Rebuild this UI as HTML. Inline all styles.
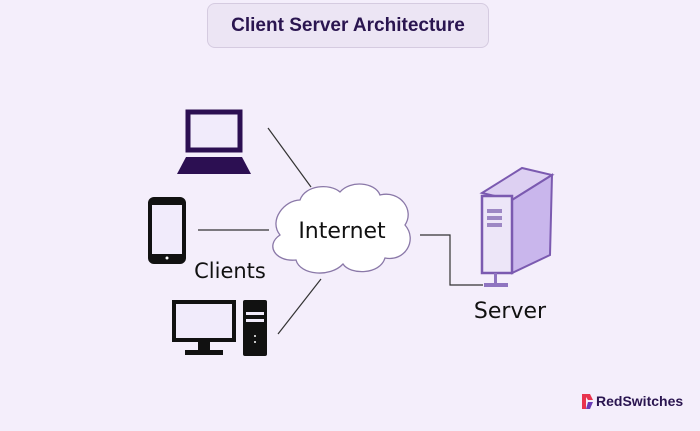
<!DOCTYPE html>
<html><head><style>
html,body{margin:0;padding:0}
body{width:700px;height:431px;overflow:hidden;background:#f4eefb;position:relative;font-family:"DejaVu Sans","Liberation Sans",sans-serif}
.t{position:absolute;left:207px;top:3px;width:282px;height:45px;border:1px solid #d5cbe0;border-radius:8px;background:#ece5f4;box-sizing:border-box;text-align:center;line-height:44px;font-family:"Liberation Sans",sans-serif;font-weight:bold;font-size:19px;color:#2a1550}
</style></head><body>
<div class="t">Client Server Architecture</div>
<svg width="700" height="431" style="position:absolute;left:0;top:0">
<!-- laptop -->
<rect x="188" y="112" width="52" height="38" fill="#f1ebfb" stroke="#2c0f52" stroke-width="5"/>
<polygon points="186,157 242,157 251,174 177,174" fill="#2c0f52"/>
<!-- phone -->
<rect x="150" y="199" width="34" height="63" rx="4" fill="#f1ebfb" stroke="#111" stroke-width="4"/>
<rect x="150" y="199" width="34" height="6" fill="#111"/>
<rect x="150" y="254" width="34" height="8" fill="#111"/>
<circle cx="167" cy="258" r="1.5" fill="#fff"/>
<!-- desktop -->
<rect x="174" y="302" width="60" height="38" fill="#f1ebfb" stroke="#111" stroke-width="4"/>
<rect x="198" y="340" width="12" height="10" fill="#111"/>
<rect x="185" y="350" width="38" height="5" fill="#111"/>
<rect x="243" y="300" width="24" height="56" rx="2" fill="#111"/>
<rect x="246" y="312" width="18" height="3" fill="#f1ebfb"/>
<rect x="246" y="319" width="18" height="3" fill="#f1ebfb"/>
<circle cx="255" cy="336" r="1" fill="#fff"/><circle cx="255" cy="342" r="1" fill="#fff"/>
<!-- lines -->
<g stroke="#333" stroke-width="1.2" fill="none">
<line x1="268" y1="128" x2="311" y2="187"/>
<line x1="198" y1="230" x2="269" y2="230"/>
<line x1="278" y1="334" x2="321" y2="279"/>
<polyline points="420,235 450,235 450,285 483,285"/>
</g>
<!-- cloud -->
<path d="M300,200 C305,185 330,183 340,192 C350,180 375,182 380,195 C400,190 415,210 405,225 C418,240 405,262 385,258 C380,275 350,275 343,264 C330,278 300,275 296,260 C275,262 265,245 280,235 C268,220 285,200 300,200 Z" fill="#fff" stroke="#8a78a8" stroke-width="1.3"/>
<text x="342" y="238" text-anchor="middle" font-size="22" fill="#111">Internet</text>
<text x="230" y="278" text-anchor="middle" font-size="21" fill="#111">Clients</text>
<!-- server -->
<polygon points="482,193 522,168 552,175 512,200" fill="#ddd0f2" stroke="#7b5ab0" stroke-width="2"/>
<polygon points="512,200 552,175 550,255 512,273" fill="#c9b6ec" stroke="#7b5ab0" stroke-width="2"/>
<rect x="482" y="196" width="30" height="77" fill="#ede6f8" stroke="#7b5ab0" stroke-width="2.5"/>
<rect x="487" y="209" width="15" height="4" fill="#9d87c4"/>
<rect x="487" y="216" width="15" height="4" fill="#9d87c4"/>
<rect x="487" y="223" width="15" height="4" fill="#9d87c4"/>
<rect x="494" y="273" width="3" height="10" fill="#8f74c0"/>
<rect x="484" y="283" width="24" height="4" fill="#8f74c0"/>
<text x="510" y="318" text-anchor="middle" font-size="22" fill="#111">Server</text>
<!-- logo -->
<path d="M582,394 L590,394 L593,400 L588,400 L586,397 L586,409 L582,409 Z" fill="#e8344e"/>
<path d="M588,402 L593,402 L590,409 L586,409 Z" fill="#6a3bb5"/>
<text x="596" y="406" font-family="Liberation Sans,sans-serif" font-size="14" fill="#2a1550" font-weight="bold">RedSwitches</text>
</svg>
</body></html>
